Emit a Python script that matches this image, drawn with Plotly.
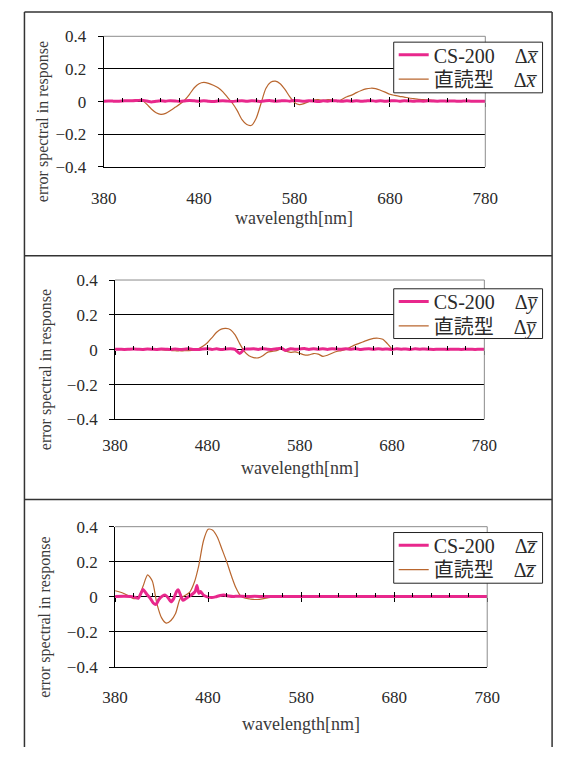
import plotly.graph_objects as go

W, H = 567, 757

# ---------------- data ----------------
wl = list(range(380, 781, 5))
xticks = [380, 480, 580, 680, 780]
yticks = [-0.4, -0.2, 0, 0.2, 0.4]
yticktext = ["\u22120.4", "\u22120.2", "0", "0.2", "0.4"]

dx_cs = [0.003, 0.004, 0.003, 0.002, 0.004, 0.006, 0.005, 0.007, 0.009, 0.004,
         -0.002, 0.002, 0.005, 0.003, 0.006, 0.004, 0.001, 0.004, 0.007, 0.005,
         0.003, 0.006, 0.002, 0.000, 0.004, 0.006, 0.003, 0.001, 0.004, 0.006,
         0.002, 0.005, 0.004, 0.001, 0.005, 0.006, 0.002, 0.004, 0.006, 0.003,
         0.007, 0.005, 0.002, 0.006, 0.004, 0.000, 0.005, 0.003, 0.006, 0.004,
         0.002, 0.005, 0.003, 0.006, 0.002, 0.004, 0.006, 0.003, 0.005, 0.002,
         0.004, 0.006, 0.003, 0.005, 0.004, 0.002, 0.004, 0.003, 0.005, 0.004,
         0.003, 0.004, 0.003, 0.004, 0.003, 0.003, 0.004, 0.003, 0.003, 0.003,
         0.003]
dx_direct = [0.005, 0.005, 0.004, 0.003, 0.003, 0.004, 0.007, 0.012, 0.008, -0.015,
             -0.045, -0.068, -0.078, -0.072, -0.055, -0.035, -0.015, 0.010, 0.045, 0.085,
             0.110, 0.118, 0.112, 0.100, 0.085, 0.060, 0.025, -0.010, -0.055, -0.110,
             -0.140, -0.145, -0.100, -0.010, 0.080, 0.118, 0.125, 0.110, 0.075, 0.030,
             -0.005, -0.018, -0.012, 0.000, 0.010, 0.012, 0.008, 0.012, 0.010, 0.000,
             0.015, 0.030, 0.040, 0.055, 0.068, 0.078, 0.082, 0.080, 0.070, 0.058,
             0.045, 0.038, 0.032, 0.028, 0.022, 0.018, 0.014, 0.012, 0.010, 0.008,
             0.006, 0.005, 0.005, 0.005, 0.005, 0.005, 0.005, 0.005, 0.005, 0.005,
             0.005]

dy_cs = [0.003, 0.003, 0.002, 0.003, 0.004, 0.003, 0.002, 0.004, 0.003, 0.002,
         0.004, 0.003, 0.001, 0.004, 0.002, 0.003, 0.005, 0.002, 0.001, 0.004,
         0.006, 0.002, 0.005, 0.001, 0.004, 0.006, 0.002, -0.022, 0.003, 0.004,
         0.005, 0.002, 0.006, 0.003, 0.001, 0.005, 0.008, -0.004, 0.006, 0.003,
         0.004, 0.007, 0.002, 0.006, 0.003, 0.005, 0.002, 0.006, 0.004, 0.003,
         0.005, 0.003, 0.006, 0.002, 0.004, 0.005, 0.002, 0.006, 0.003, 0.004,
         0.002, 0.005, 0.003, 0.004, 0.002, 0.005, 0.003, 0.004, 0.003, 0.002,
         0.003, 0.003, 0.002, 0.003, 0.003, 0.002, 0.003, 0.003, 0.002, 0.003,
         0.003]
dy_direct = [0.004, 0.004, 0.004, 0.003, 0.003, 0.003, 0.003, 0.002, 0.002, 0.002,
             0.000, -0.002, -0.004, -0.006, -0.006, -0.006, -0.005, -0.002, 0.005, 0.020,
             0.040, 0.070, 0.100, 0.118, 0.122, 0.115, 0.085, 0.035, -0.010, -0.035,
             -0.045, -0.047, -0.035, -0.015, -0.010, -0.005, 0.005, -0.008, -0.015, -0.012,
             -0.020, -0.030, -0.030, -0.022, -0.025, -0.038, -0.032, -0.020, -0.010, -0.005,
             0.002, 0.015, 0.028, 0.038, 0.048, 0.058, 0.065, 0.066, 0.060, 0.035,
             0.005, 0.002, 0.002, 0.002, 0.002, 0.002, 0.002, 0.002, 0.002, 0.002,
             0.002, 0.002, 0.002, 0.002, 0.002, 0.002, 0.002, 0.002, 0.002, 0.002,
             0.002]

dz_direct = [0.035, 0.028, 0.018, 0.005, -0.010, -0.005, 0.060, 0.125, 0.090, -0.040,
             -0.120, -0.150, -0.135, -0.095, -0.010, 0.008, 0.025, 0.080, 0.180, 0.320,
             0.385, 0.380, 0.340, 0.270, 0.200, 0.120, 0.050, 0.005, -0.008, -0.012,
             -0.015, -0.014, -0.010, -0.005, -0.002, 0.000, 0.000, 0.000, 0.000, 0.000,
             0.000, 0.000, 0.000, 0.000, 0.000, 0.000, 0.000, 0.000, 0.000, 0.000,
             0.000, 0.000, 0.000, 0.000, 0.000, 0.000, 0.000, 0.000, 0.000, 0.000,
             0.000, 0.000, 0.000, 0.000, 0.000, 0.000, 0.000, 0.000, 0.000, 0.000,
             0.000, 0.000, 0.000, 0.000, 0.000, 0.000, 0.000, 0.000, 0.000, 0.000,
             0.000]

dz_cs_wl = [380, 390, 400, 405, 410, 414, 418, 421, 424, 427,
            431, 434, 437, 440, 443, 446, 448, 451, 453, 456,
            460, 463, 466, 468, 470, 472, 475, 479, 484, 488,
            493, 497, 502, 507, 512, 520, 530, 540, 560, 600,
            680, 780]
dz_cs = [0.002, 0.003, 0.000, -0.008, 0.042, 0.015, -0.010, -0.035, -0.043, -0.015,
         0.005, 0.010, -0.005, -0.028, -0.010, 0.030, 0.040, 0.000, -0.020, -0.010,
         0.005, 0.015, 0.030, 0.065, 0.020, 0.030, 0.010, 0.000, -0.004, 0.000,
         0.008, 0.010, 0.005, 0.002, 0.004, 0.002, 0.003, 0.002, 0.002, 0.002,
         0.002, 0.002]

# ---------------- styling / layout helpers ----------------
PINK = "#E8288C"
BROWN = "#B9662E"
TXT = "#2a2a2a"
SERIF = "'Liberation Serif', 'Noto Sans CJK JP', serif"


def px(x):
    return x / W


def py(y):
    return 1 - y / H


panels = [
    dict(cs_x=wl, cs=dx_cs, direct=dx_direct, sym="x", box=(95, 495, 28, 162),
         stand=16, ytitle=(31.5, 116), xtitle=214, legbox=(399, 555, 34, 86)),
    dict(cs_x=wl, cs=dy_cs, direct=dy_direct, sym="y", box=(107, 494, 278, 421),
         stand=10, ytitle=(34, 370), xtitle=471, legbox=(399, 555, 287, 338)),
    dict(cs_x=dz_cs_wl, cs=dz_cs, direct=dz_direct, sym="z", box=(107, 497, 531, 675),
         stand=15, ytitle=(34, 624), xtitle=733, legbox=(399, 555, 537, 589)),
]

fig = go.Figure()
layout = {}
shapes = []
legend_shapes = []
annotations = []


def legend_id(k):
    return "legend" if k == 1 else f"legend{k}"


for i, p in enumerate(panels):
    n = i + 1
    sfx = "" if n == 1 else str(n)
    leg_cs = legend_id(2 * n - 1)
    leg_dir = legend_id(2 * n)
    x0, x1, yt, yb = p["box"]
    dom_x = [px(x0), px(x1)]
    dom_y = [py(yb), py(yt)]
    zero_pos = (dom_y[0] + dom_y[1]) / 2
    lab = "\u0394<i>" + p["sym"] + "\u0305</i>"
    sp = "\u00a0" * 4

    fig.add_trace(go.Scatter(
        x=wl, y=p["direct"], mode="lines", name="直読型" + sp + lab,
        line=dict(color=BROWN, width=1.2, shape="spline", smoothing=0.7),
        xaxis="x" + sfx, yaxis="y" + sfx, legend=leg_dir, hoverinfo="skip"))
    fig.add_trace(go.Scatter(
        x=p["cs_x"], y=p["cs"], mode="lines", name="CS-200" + sp + lab,
        line=dict(color=PINK, width=3, shape="spline", smoothing=0.5),
        xaxis="x" + sfx, yaxis="y" + sfx, legend=leg_cs, hoverinfo="skip"))

    # helper (invisible) traces so the zero-line tick axes are drawn
    for k in (n + 3, n + 6):
        fig.add_trace(go.Scatter(
            x=[xticks[0], xticks[-1]], y=[0, 0], mode="lines",
            line=dict(width=0, color="rgba(0,0,0,0)"), showlegend=False,
            hoverinfo="skip", xaxis=f"x{k}", yaxis="y" + sfx))

    tickfont = dict(family=SERIF, size=17, color=TXT)
    layout["xaxis" + sfx] = dict(
        domain=dom_x, anchor="y" + sfx, range=[380, 780], tickvals=xticks,
        showline=True, linecolor="black", linewidth=1, ticks="", showgrid=False,
        zeroline=False, tickfont=tickfont, ticklabelstandoff=p["stand"], fixedrange=True)
    layout["yaxis" + sfx] = dict(
        domain=dom_y, anchor="x" + sfx, range=[-0.4, 0.4], tickvals=yticks,
        ticktext=yticktext, showline=True, linecolor="black", linewidth=1,
        ticks="outside", ticklen=5, tickcolor="black", showgrid=True,
        gridcolor="black", gridwidth=1, zeroline=True, zerolinecolor="black",
        zerolinewidth=1, tickfont=tickfont, ticklabelstandoff=8, fixedrange=True)
    layout[f"xaxis{n + 3}"] = dict(
        overlaying="x" + sfx, anchor="free", position=zero_pos, range=[380, 780],
        tickvals=xticks, ticks="inside", ticklen=5, tickcolor="black", tickwidth=1,
        showline=False, showticklabels=False, showgrid=False, zeroline=False,
        layer="above traces",
        minor=dict(dtick=20, tick0=380, ticks="inside", ticklen=4,
                   tickcolor="black", tickwidth=1, showgrid=False))
    layout[f"xaxis{n + 6}"] = dict(
        overlaying="x" + sfx, anchor="free", position=zero_pos, range=[380, 780],
        tickvals=xticks, ticks="outside", ticklen=4, tickcolor="black", tickwidth=1,
        showline=False, showticklabels=False, showgrid=False, zeroline=False,
        layer="above traces")

    lx0, lx1, ly0, ly1 = p["legbox"]
    for leg, row in ((leg_cs, ly0 + 13), (leg_dir, ly0 + 38)):
        layout[leg] = dict(
            x=px(lx0), y=py(row - 20), xanchor="left", yanchor="top",
            bgcolor="rgba(0,0,0,0)", borderwidth=0,
            font=dict(family=SERIF, size=20, color=TXT),
            itemclick=False, itemdoubleclick=False)
    legend_shapes.append(dict(type="rect", xref="paper", yref="paper",
                              x0=px(lx0), x1=px(lx1), y0=py(ly1), y1=py(ly0),
                              fillcolor="white", line=dict(color="#222", width=1)))

    # plot-area frame (top and right grey)
    shapes.append(dict(type="line", xref=f"x{sfx} domain", yref=f"y{sfx} domain",
                       x0=0, x1=1, y0=1, y1=1, line=dict(color="#8c8c8c", width=1)))
    shapes.append(dict(type="line", xref=f"x{sfx} domain", yref=f"y{sfx} domain",
                       x0=1, x1=1, y0=0, y1=1, line=dict(color="#8c8c8c", width=1)))

    annotations.append(dict(
        text="error spectral in response", textangle=-90, xref="paper", yref="paper",
        x=px(p["ytitle"][0]), y=py(p["ytitle"][1]), xanchor="center", yanchor="middle",
        showarrow=False, font=dict(family=SERIF, size=16, color="#3a3a3a")))
    annotations.append(dict(
        text="wavelength[nm]", xref="paper", yref="paper",
        x=(dom_x[0] + dom_x[1]) / 2, y=py(p["xtitle"]), xanchor="center",
        yanchor="middle", showarrow=False, font=dict(family=SERIF, size=18, color="#3a3a3a")))

# outer panel frames
frame = dict(color="#333333", width=1.5)
for yy in (3, 253, 503):
    shapes.append(dict(type="line", xref="paper", yref="paper", x0=px(12), x1=px(565),
                       y0=py(yy), y1=py(yy), line=frame))
for xx in (12, 565):
    shapes.append(dict(type="line", xref="paper", yref="paper", x0=px(xx), x1=px(xx),
                       y0=py(3), y1=0, line=frame))

fig.update_layout(
    width=W, height=H, margin=dict(l=0, r=0, t=0, b=0),
    paper_bgcolor="white", plot_bgcolor="white", showlegend=True,
    shapes=shapes + legend_shapes, annotations=annotations, **layout)

fig.write_html("out.html")
